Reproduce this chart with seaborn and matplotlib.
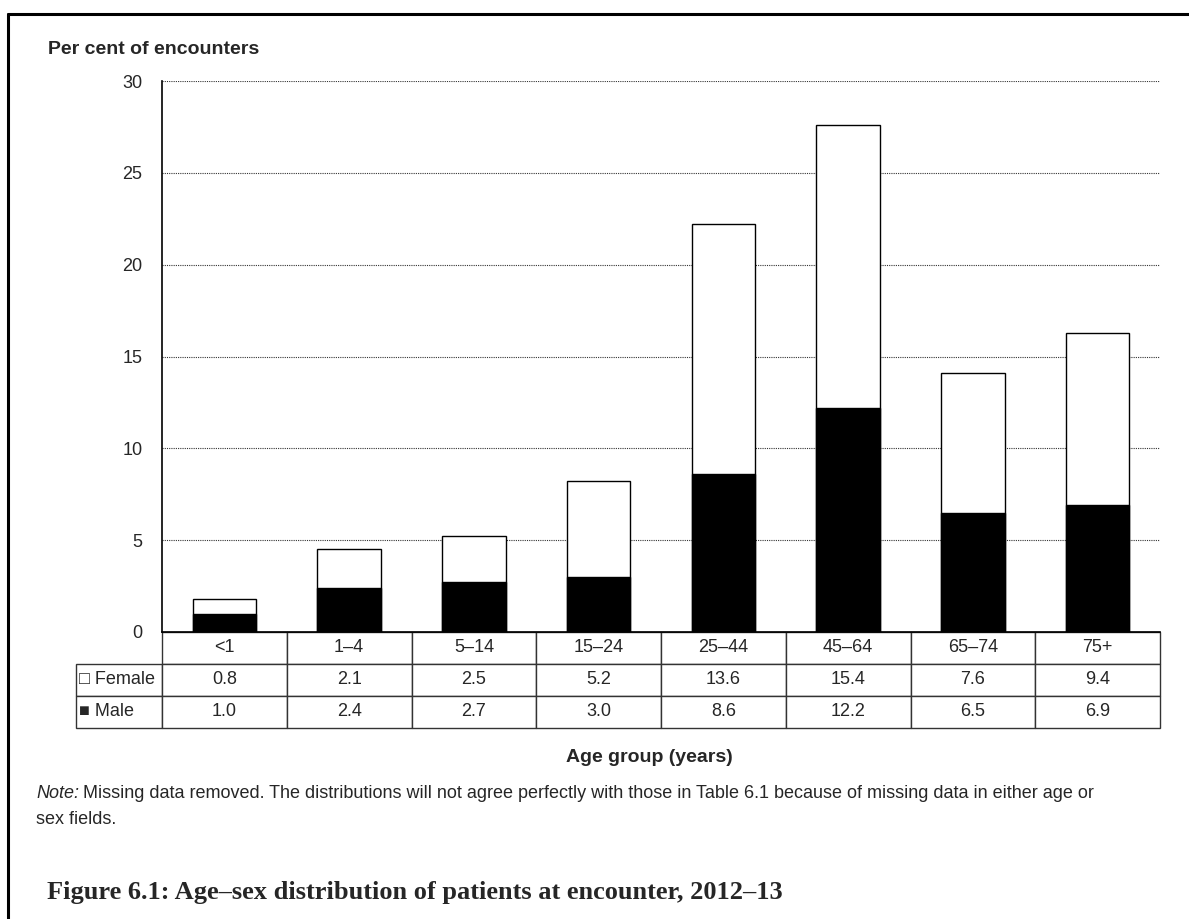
import pandas as pd
import seaborn as sns
from matplotlib import pyplot as plt
from matplotlib.lines import Line2D
from matplotlib.table import Table

# data
age_groups = ['<1', '1–4', '5–14', '15–24', '25–44', '45–64', '65–74', '75+']
female = [0.8, 2.1, 2.5, 5.2, 13.6, 15.4, 7.6, 9.4]
male = [1.0, 2.4, 2.7, 3.0, 8.6, 12.2, 6.5, 6.9]
y_ticks = [0, 5, 10, 15, 20, 25, 30]
row_names = ['□ Female', '■ Male']

df = pd.DataFrame({'age': age_groups, 'Female': female, 'Male': male})
df['Total'] = df['Female'] + df['Male']

sns.set_style('white')
plt.rcParams['font.family'] = ['Liberation Sans', 'DejaVu Sans']

W, H = 1189, 919
fig = plt.figure(figsize=(W / 100, H / 100), dpi=100)
ax = fig.add_axes([162 / W, 1 - 632 / H, 998 / W, 551 / H])

# stacked bars: white total behind, black male in front
sns.barplot(data=df, x='age', y='Total', color='white', edgecolor='black',
            linewidth=1, width=0.51, saturation=1, ax=ax)
sns.barplot(data=df, x='age', y='Male', color='black', edgecolor='black',
            linewidth=1, width=0.51, saturation=1, ax=ax)

ax.set_ylim(0, 30)
ax.set_yticks(y_ticks)
ax.set_xticks(range(len(age_groups)))
ax.set_xticklabels([])
ax.set_xlabel('')
ax.set_ylabel('')
ax.tick_params(axis='y', length=0, labelsize=13, pad=14)
ax.tick_params(axis='x', length=0)
ax.set_axisbelow(True)
ax.yaxis.grid(True, linestyle=(0, (1, 1)), color='#333333', linewidth=0.8)
sns.despine(ax=ax, top=True, right=True)
for s in ('left', 'bottom'):
    ax.spines[s].set_color('black')
    ax.spines[s].set_linewidth(1.2)

# data table under the axis
lab_w = 86 / 998
col_w = 1 / 8
row_h = 1 / 3
tbl = Table(ax, bbox=[-lab_w, -96 / 551, 1 + lab_w, 96 / 551])
for j, g in enumerate(age_groups):
    tbl.add_cell(0, j + 1, width=col_w, height=row_h, text=g, loc='center')
for i, (name, vals) in enumerate([(row_names[0], female), (row_names[1], male)]):
    tbl.add_cell(i + 1, 0, width=lab_w, height=row_h, text=name, loc='left')
    for j, v in enumerate(vals):
        tbl.add_cell(i + 1, j + 1, width=col_w, height=row_h, text=f'{v:.1f}', loc='center')
tbl.auto_set_font_size(False)
tbl.set_fontsize(13)
for (r, c), cell in tbl.get_celld().items():
    cell.set_edgecolor('#333333')
    cell.set_linewidth(1)
    if c == 0:
        cell.PAD = 0.04
ax.add_table(tbl)

fig.text(48 / W, 1 - 50 / H, 'Per cent of encounters', fontsize=14,
         fontweight='bold', va='center', ha='left')
fig.text(649 / W, 1 - 757 / H, 'Age group (years)', fontsize=14,
         fontweight='bold', va='center', ha='center')

# note with italic lead-in
note_y = 794
note = fig.text(36 / W, 1 - note_y / H, 'Note:', fontsize=13, style='italic',
                va='center', ha='left')
fig.canvas.draw()
bb = note.get_window_extent()
fig.text((bb.x1 + 4) / W, 1 - note_y / H,
         'Missing data removed. The distributions will not agree perfectly with those in '
         'Table 6.1 because of missing data in either age or',
         fontsize=13, va='center', ha='left')
fig.text(36 / W, 1 - (note_y + 25) / H, 'sex fields.', fontsize=13, va='center', ha='left')

fig.text(47 / W, 1 - 893 / H,
         'Figure 6.1: Age–sex distribution of patients at encounter, 2012–13',
         fontsize=19, fontweight='bold', family=['Liberation Serif', 'DejaVu Serif'],
         va='center', ha='left')

# partial frame around the figure
fig.add_artist(Line2D([8 / W, 8 / W], [0, 1 - 14 / H], transform=fig.transFigure,
                      color='black', lw=2.2))
fig.add_artist(Line2D([8 / W, 1], [1 - 14 / H, 1 - 14 / H], transform=fig.transFigure,
                      color='black', lw=2.2))

fig.savefig('out.png', dpi=100)
